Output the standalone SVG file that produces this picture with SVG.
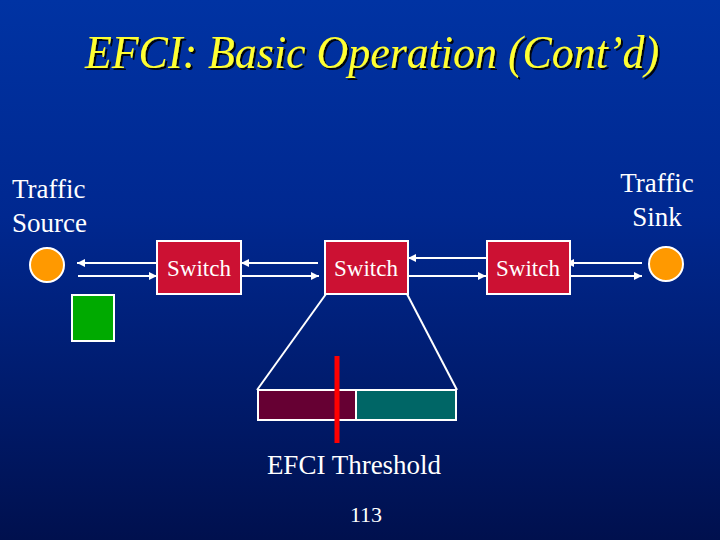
<svg xmlns="http://www.w3.org/2000/svg" width="720" height="540" viewBox="0 0 720 540">
<defs>
<linearGradient id="bg" x1="0" y1="0" x2="0" y2="1">
<stop offset="0" stop-color="#0033A3"/>
<stop offset="0.4" stop-color="#002890"/>
<stop offset="1" stop-color="#00104E"/>
</linearGradient>
<filter id="sh" x="-5%" y="-20%" width="110%" height="140%">
<feDropShadow dx="2" dy="2" stdDeviation="0.5" flood-color="#000000" flood-opacity="0.9"/>
</filter>
<marker id="ah" viewBox="0 0 10 10" refX="10" refY="5" markerWidth="4" markerHeight="4" orient="auto" markerUnits="strokeWidth">
<path d="M0,0 L10,5 L0,10 z" fill="#FFFFFF"/>
</marker>
<style>
.t{font-family:"Tinos","Liberation Serif","Times New Roman","DejaVu Serif","Noto Serif",serif;fill:#FFFFFF}
.sw{fill:#CC1133;stroke:#FFFFFF;stroke-width:2}
.ln{stroke:#FFFFFF;stroke-width:2;fill:none}
.ar{stroke:#FFFFFF;stroke-width:2;fill:none;marker-end:url(#ah)}
</style>
</defs>
<rect x="0" y="0" width="720" height="540" fill="url(#bg)"/>
<g id="title">
<text class="t" x="372" y="68" text-anchor="middle" font-style="italic" font-size="47" style="fill:#FFFF33" filter="url(#sh)" textLength="574" lengthAdjust="spacingAndGlyphs">EFCI: Basic Operation (Cont’d)</text>
</g>
<g id="source-label">
<text class="t" x="12" y="198" font-size="27">Traffic</text>
<text class="t" x="12" y="232" font-size="27">Source</text>
</g>
<g id="sink-label">
<text class="t" x="657" y="192" font-size="27" text-anchor="middle">Traffic</text>
<text class="t" x="657" y="226" font-size="27" text-anchor="middle">Sink</text>
</g>
<g id="connectors">
<line class="ar" x1="157" y1="263" x2="77" y2="263"/>
<line class="ar" x1="78" y1="276" x2="157" y2="276"/>
<line class="ar" x1="318" y1="263" x2="241" y2="263"/>
<line class="ar" x1="241" y1="276" x2="319" y2="276"/>
<line class="ar" x1="486" y1="258" x2="408" y2="258"/>
<line class="ar" x1="408" y1="276" x2="486" y2="276"/>
<line class="ar" x1="642" y1="263" x2="566" y2="263"/>
<line class="ar" x1="570" y1="276" x2="642" y2="276"/>
<line class="ln" x1="326" y1="294" x2="257" y2="390"/>
<line class="ln" x1="407" y1="294" x2="457" y2="390"/>
</g>
<g id="source">
<circle cx="47" cy="265" r="17" fill="#FF9900" stroke="#FFFFFF" stroke-width="2"/>
</g>
<g id="green-cell">
<rect x="72" y="295" width="42" height="46" fill="#00AA00" stroke="#FFFFFF" stroke-width="2"/>
</g>
<g id="switch1">
<rect class="sw" x="157" y="241" width="84" height="53"/>
<text class="t" x="199" y="276" font-size="23" text-anchor="middle">Switch</text>
</g>
<g id="switch2">
<rect class="sw" x="325" y="241" width="83" height="53"/>
<text class="t" x="366" y="276" font-size="23" text-anchor="middle">Switch</text>
</g>
<g id="switch3">
<rect class="sw" x="487" y="241" width="83" height="53"/>
<text class="t" x="528" y="276" font-size="23" text-anchor="middle">Switch</text>
</g>
<g id="sink">
<circle cx="666" cy="264" r="17" fill="#FF9900" stroke="#FFFFFF" stroke-width="2"/>
</g>
<g id="buffer">
<rect x="258" y="390" width="98" height="30" fill="#660033" stroke="#FFFFFF" stroke-width="2"/>
<rect x="356" y="390" width="100" height="30" fill="#006666" stroke="#FFFFFF" stroke-width="2"/>
<line x1="337" y1="356" x2="337" y2="443" stroke="#FF0000" stroke-width="5"/>
</g>
<g id="threshold-label">
<text class="t" x="354" y="474" font-size="27" text-anchor="middle">EFCI Threshold</text>
</g>
<g id="page-number">
<text class="t" x="366" y="522" font-size="22" text-anchor="middle">113</text>
</g>
</svg>
